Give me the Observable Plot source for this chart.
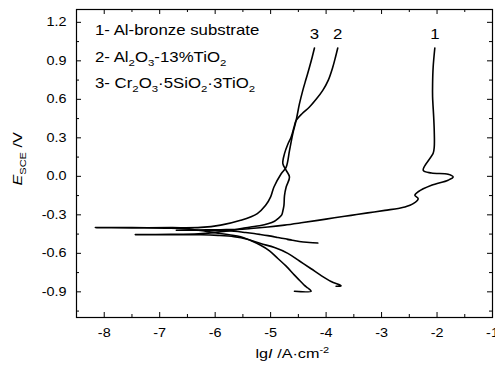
<!DOCTYPE html>
<html><head><meta charset="utf-8">
<script src="https://cdn.jsdelivr.net/npm/d3@7"></script>
<script src="https://cdn.jsdelivr.net/npm/@observablehq/plot@0.6"></script>
<style>body{margin:0;background:#fff} svg{display:block}</style>
</head><body><div id="chart"></div>
<script>
// ---- tick values ----
const xTicks = [-8, -7, -6, -5, -4, -3, -2, -1];
const xMinor = [-7.5, -6.5, -5.5, -4.5, -3.5, -2.5, -1.5];
const yTicks = [-0.9, -0.6, -0.3, 0, 0.3, 0.6, 0.9, 1.2];
const yMinor = [-1.05, -0.75, -0.45, -0.15, 0.15, 0.45, 0.75, 1.05];

// ---- curve 1: Al-bronze substrate (lgI, E) ----
const c1x = [-4.15, -4.30, -4.45, -4.58, -4.70, -4.62, -4.80, -4.95, -4.88, -5.05, -5.20, -5.30, -5.45, -5.66, -6.0, -6.4, -6.7,
  -6.3, -5.9, -5.6, -5.36, -5.05, -4.75, -4.45, -4.15, -3.85, -3.55, -3.25, -2.94, -2.70, -2.58, -2.43, -2.34, -2.40, -2.34,
  -2.10, -1.80, -1.71, -1.80, -2.10, -2.25, -2.07, -2.05, -2.05, -2.06, -2.08, -2.08, -2.07, -2.04];
const c1y = [-0.52, -0.515, -0.51, -0.50, -0.492, -0.495, -0.482, -0.47, -0.476, -0.462, -0.452, -0.446, -0.438, -0.428, -0.422, -0.42, -0.42,
  -0.418, -0.416, -0.414, -0.407, -0.395, -0.38, -0.362, -0.343, -0.323, -0.304, -0.285, -0.265, -0.25, -0.239, -0.213, -0.174, -0.148, -0.12,
  -0.07, -0.03, -0.005, 0.016, 0.026, 0.047, 0.18, 0.23, 0.35, 0.46, 0.62, 0.72, 0.85, 1.0];

// ---- curve 2: Al2O3-13%TiO2 ----
const c2x = [-3.82, -3.73, -3.91, -4.10, -4.27, -4.48, -4.69, -4.93, -5.18, -5.42, -5.66, -5.95, -6.26, -6.8, -7.44,
  -6.8, -6.3, -5.95, -5.7, -5.5, -5.36, -5.2, -5.05, -4.93, -4.87, -4.80, -4.78, -4.76, -4.75, -4.72, -4.66, -4.72, -4.78,
  -4.75, -4.69, -4.63, -4.58, -4.54, -4.43, -4.30, -4.18, -4.06, -3.96, -3.88, -3.83, -3.79];
const c2y = [-0.857, -0.853, -0.82, -0.77, -0.72, -0.66, -0.60, -0.555, -0.524, -0.49, -0.47, -0.46, -0.455, -0.454, -0.454,
  -0.452, -0.447, -0.435, -0.42, -0.405, -0.395, -0.385, -0.37, -0.35, -0.33, -0.30, -0.27, -0.226, -0.15, -0.083, -0.005, 0.047, 0.099,
  0.177, 0.25, 0.306, 0.38, 0.436, 0.49, 0.54, 0.60, 0.67, 0.75, 0.85, 0.93, 1.0];

// ---- curve 3: Cr2O3·5SiO2·3TiO2 ----
const c3x = [-4.57, -4.27, -4.33, -4.39, -4.48, -4.57, -4.72, -4.87, -5.02, -5.18, -5.36, -5.54, -5.75, -6.0, -6.3, -6.8, -7.5, -8.16,
  -7.5, -6.8, -6.26, -5.90, -5.54, -5.24, -5.09, -5.0, -4.94, -4.81, -4.72, -4.66, -4.60, -4.54, -4.48, -4.42, -4.36, -4.30, -4.25, -4.21];
const c3y = [-0.895, -0.895, -0.87, -0.85, -0.81, -0.77, -0.70, -0.64, -0.58, -0.537, -0.50, -0.47, -0.455, -0.44, -0.42, -0.405, -0.402, -0.40,
  -0.40, -0.40, -0.398, -0.38, -0.343, -0.29, -0.226, -0.16, -0.083, 0.02, 0.072, 0.20, 0.333, 0.436, 0.566, 0.67, 0.76, 0.85, 0.93, 1.0];

const curveLabels = ["1", "2", "3"];

// ---- build table ----
const series = [[c1x, c1y], [c2x, c2y], [c3x, c3y]];
const rows = [];
series.forEach(([xs, ys], k) => xs.forEach((x, i) => rows.push({s: curveLabels[k], x, y: ys[i]})));
const labelRows = series.map(([xs, ys], k) => ({s: curveLabels[k], x: xs[xs.length - 1], y: ys[ys.length - 1]}));

const W = 495, H = 369, mL = 76, mR = 3, mT = 9, mB = 52;
const pw = W - mL - mR, ph = H - mT - mB;
const FONT = "'Liberation Sans', Arial, Helvetica, sans-serif";

const plot = Plot.plot({
  width: W, height: H,
  marginLeft: mL, marginRight: mR, marginTop: mT, marginBottom: mB,
  style: {fontFamily: FONT, fontSize: "12px", color: "#000", background: "#fff", overflow: "visible"},
  x: {domain: [-8.5, -1]},
  y: {domain: [-1.1, 1.3]},
  marks: [
    Plot.axisX(xTicks, {anchor: "bottom", tickSize: 0, tickPadding: 11, tickFormat: d => String(d), label: null, fontSize: 12}),
    Plot.axisY(yTicks, {anchor: "left", tickSize: 0, tickPadding: 10, tickFormat: d => d.toFixed(1), label: null, fontSize: 12}),
    Plot.ruleX(xTicks, {x: d => d, insetTop: ph - 5, stroke: "#000"}),
    Plot.ruleX(xMinor, {x: d => d, insetTop: ph - 3, stroke: "#000"}),
    Plot.ruleX(xTicks, {x: d => d, insetBottom: ph - 5, stroke: "#000"}),
    Plot.ruleX(xMinor, {x: d => d, insetBottom: ph - 3, stroke: "#000"}),
    Plot.ruleY(yTicks, {y: d => d, insetRight: pw - 5, stroke: "#000"}),
    Plot.ruleY(yMinor, {y: d => d, insetRight: pw - 3, stroke: "#000"}),
    Plot.ruleY(yTicks, {y: d => d, insetLeft: pw - 5, stroke: "#000"}),
    Plot.ruleY(yMinor, {y: d => d, insetLeft: pw - 3, stroke: "#000"}),
    Plot.frame({stroke: "#000", strokeWidth: 1.2}),
    Plot.line(rows, {x: "x", y: "y", z: "s", stroke: "#000", strokeWidth: 1.6, curve: "catmull-rom"}),
    Plot.text(labelRows, {x: "x", y: "y", text: "s", dy: -9, lineAnchor: "bottom", fontSize: 14, fill: "#000"})
  ]
});
document.getElementById("chart").appendChild(plot);

// horizontally widen Plot's text (reference glyphs are stretched)
const STRETCH = 1.2;
plot.querySelectorAll("text").forEach(t => {
  const w = t.getComputedTextLength();
  t.setAttribute("textLength", (w * STRETCH).toFixed(2));
  t.setAttribute("lengthAdjust", "spacingAndGlyphs");
});

// ---- rich text (subscripts / superscripts) ----
const svg = d3.select(plot);
function rich(x, y, segs, size, opts = {}) {
  const t = svg.append("text")
    .attr("transform", `translate(${x},${y})${opts.rotate ? " rotate(-90)" : ""} scale(${STRETCH},1)`)
    .attr("text-anchor", "start")
    .attr("font-family", FONT).attr("font-size", size).attr("fill", "#000");
  let shift = 0;
  segs.forEach(([txt, kind]) => {
    const target = kind === "sub" ? 4 : kind === "sup" ? -5 : 0;
    const ts = t.append("tspan").attr("dy", target - shift).text(txt);
    shift = target;
    if (kind === "sub" || kind === "sup") ts.attr("font-size", size * 0.68);
    if (kind === "it") ts.attr("font-style", "italic");
  });
  return t;
}

const legend1 = [["1- Al-bronze substrate"]];
const legend2 = [["2- Al"], ["2", "sub"], ["O"], ["3", "sub"], ["-13%TiO"], ["2", "sub"]];
const legend3 = [["3- Cr"], ["2", "sub"], ["O"], ["3", "sub"], ["\u00b75SiO"], ["2", "sub"], ["\u00b73TiO"], ["2", "sub"]];
rich(95, 34.5, legend1, 14);
rich(95, 61.5, legend2, 14);
rich(95, 88, legend3, 14);

rich(255.5, 358, [["lg"], ["I", "it"], [" /A\u00b7cm"], ["-2", "sup"]], 13.5);
rich(22, 185.5, [["E", "it"], ["SCE", "sub"], [" /V"]], 13.5, {rotate: true});
</script></body></html>
